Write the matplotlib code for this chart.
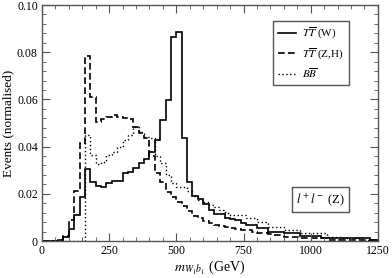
import matplotlib
matplotlib.use("Agg")
import matplotlib.pyplot as plt
import numpy as np
from matplotlib.ticker import MultipleLocator

plt.rcParams["font.family"] = ["Liberation Serif", "DejaVu Serif"]
plt.rcParams["mathtext.fontset"] = "stix"

# 20 GeV bins from 0 to 1260
edges = np.arange(0, 1261, 20)

tt_w = [0, 0, 0, 0.0005, 0.0018, 0.005, 0.011, 0.0188, 0.0304, 0.0251,
        0.0235, 0.0228, 0.0244, 0.0254, 0.0254, 0.029, 0.0294, 0.031, 0.033, 0.0346,
        0.0378, 0.0428, 0.0513, 0.0597, 0.0863, 0.0887, 0.0435, 0.025, 0.019, 0.0178,
        0.0155, 0.0131, 0.0113, 0.0113, 0.0096, 0.0092, 0.0089, 0.0075, 0.0068, 0.0068,
        0.0054, 0.0054, 0.004, 0.004, 0.004, 0.0033, 0.0033, 0.0033, 0.0021, 0.0021,
        0.0021, 0.0021, 0.0011, 0.0011, 0.0011, 0.0011, 0.0011, 0.0011, 0.0011, 0.0011,
        0.0011, 0.0006, 0.0006]

tt_zh = [0, 0, 0, 0.0005, 0.002, 0.0089, 0.0213, 0.0414, 0.0784, 0.0611,
         0.0505, 0.0515, 0.0525, 0.0533, 0.0525, 0.052, 0.0515, 0.0484, 0.0459, 0.0435,
         0.036, 0.0288, 0.0251, 0.0209, 0.0188, 0.0164, 0.0148, 0.0127, 0.0108, 0.0096,
         0.0086, 0.0075, 0.0068, 0.0064, 0.006, 0.0056, 0.0053, 0.0047, 0.0047, 0.004,
         0.0035, 0.0033, 0.0028, 0.0025, 0.0025, 0.0018, 0.0018, 0.0018, 0.0014, 0.0011,
         0.0011, 0.0011, 0.0011, 0.0006, 0.0006, 0.0006, 0.0006, 0.0006, 0.0006, 0.0006,
         0.0006, 0.0006, 0.0006]

bb = [0, 0, 0, 0, 0, 0, 0, 0, 0.045, 0.0365,
      0.0325, 0.0336, 0.0364, 0.0378, 0.040, 0.0428, 0.045, 0.0484, 0.0463, 0.044,
      0.0436, 0.036, 0.033, 0.028, 0.0244, 0.023, 0.023, 0.0212, 0.019, 0.0175,
      0.0164, 0.0153, 0.0146, 0.013, 0.012, 0.0112, 0.011, 0.011, 0.0096, 0.0096,
      0.0082, 0.0082, 0.006, 0.006, 0.006, 0.0047, 0.0047, 0.0047, 0.0033, 0.0033,
      0.0033, 0.0033, 0.0033, 0.0018, 0.0018, 0.0018, 0.0011, 0.0011, 0.0011, 0.0011,
      0.0006, 0.0006, 0.0006]

fig = plt.figure(figsize=(3.92, 2.78), dpi=100)
ax = fig.add_axes([0.107, 0.133, 0.857, 0.849])

ax.stairs(tt_w, edges, color="black", linewidth=1.2, label=r"$T\overline{T}$ (W)")
ax.stairs(tt_zh, edges, color="black", linewidth=1.2, linestyle=(0, (4, 2)),
          label=r"$T\overline{T}$ (Z,H)")
ax.stairs(bb, edges, color="black", linewidth=1.0, linestyle=(0, (1, 1.8)),
          label=r"$B\overline{B}$")

ax.set_xlim(0, 1250)
ax.set_ylim(0, 0.10)
ax.xaxis.set_major_locator(MultipleLocator(250))
ax.xaxis.set_minor_locator(MultipleLocator(50))
ax.yaxis.set_major_locator(MultipleLocator(0.02))
ax.yaxis.set_minor_locator(MultipleLocator(0.004))
ax.set_yticks([0, 0.02, 0.04, 0.06, 0.08, 0.10])
ax.set_yticklabels(["0", "0.02", "0.04", "0.06", "0.08", "0.10"])
ax.tick_params(which="both", direction="in", top=True, right=True, labelsize=8.5,
               color="#555555")
ax.tick_params(which="major", length=6, pad=3)
ax.tick_params(which="minor", length=3)
for s in ax.spines.values():
    s.set_color("#555555")
    s.set_linewidth(1.0)

ax.set_xlabel(r"$m_{W_1 b_1}$ (GeV)", fontsize=10, labelpad=1)
ax.set_ylabel("Events (normalised)", fontsize=9.5)
ax.yaxis.set_label_coords(-0.083, 0.5)

leg = ax.legend(loc="upper right", bbox_to_anchor=(0.914, 0.932), borderaxespad=0,
                fontsize=8, handlelength=1.6, handletextpad=0.6, borderpad=0.45,
                labelspacing=0.45, fancybox=False, framealpha=1)
leg.get_frame().set_edgecolor("#555555")
leg.get_frame().set_linewidth(1.0)

ax.text(0.902, 0.14, r"$l^+l^-$ (Z)", transform=ax.transAxes, ha="right",
        va="bottom", fontsize=9,
        bbox=dict(boxstyle="square,pad=0.35", facecolor="white",
                  edgecolor="#555555", linewidth=1.0))

fig.savefig("out.png", dpi=100)
